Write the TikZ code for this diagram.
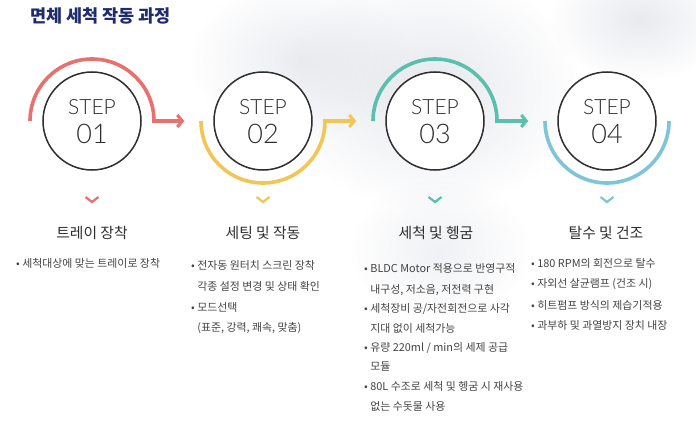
\documentclass[tikz,border=0pt]{standalone}
\usepackage{fontspec}
\setmainfont{Noto Sans CJK KR}
\newfontfamily\stepfont{Lato}[UprightFont={* Light}]
\usetikzlibrary{arrows.meta,calc,fadings}
\tikzfading[name=softout, inner color=transparent!0, outer color=transparent!100]
\definecolor{cA}{HTML}{E8706E}
\definecolor{cB}{HTML}{F2C654}
\definecolor{cC}{HTML}{5BBFAE}
\definecolor{cD}{HTML}{7CC6D8}
\definecolor{navy}{HTML}{1E2C6E}
\definecolor{ink}{HTML}{2E2E2E}
\definecolor{txt}{HTML}{444444}
\definecolor{marble}{HTML}{CDD1DC}
\tikzset{
  stepcircle/.style={circle, draw=ink, line width=1.5pt, minimum size=98pt, inner sep=0pt, fill=white},
  steplabel/.style={font=\stepfont\fontsize{21}{21}\selectfont, text=ink, anchor=base, inner sep=0pt},
  stepnum/.style={font=\stepfont\fontsize{27}{27}\selectfont, text=ink, anchor=base, inner sep=0pt},
  ring/.style={line width=3.6pt, line cap=butt, -{Straight Barb[length=5pt,width=12pt,line width=3pt]}},
  ringend/.style={line width=3.6pt, line cap=butt},
  chev/.style={line width=2.2pt},
  heading/.style={font=\fontsize{14.8}{14.8}\selectfont, text=ink, anchor=base, inner sep=0pt},
  bul/.style={font=\fontsize{10.9}{10.9}\selectfont, text=txt, anchor=base west, inner sep=0pt},
  title/.style={font=\bfseries\fontsize{17.5}{17.5}\selectfont, text=navy, anchor=base west, inner sep=0pt},
  marblepatch/.style={marble, path fading=softout}
}
\begin{document}
\begin{tikzpicture}[x=1pt,y=-1pt]
\useasboundingbox (0,0) rectangle (696,425);
\fill[white] (0,0) rectangle (696,425);
% soft marble background
\fill[marblepatch, opacity=0.5] (430,90) ellipse [x radius=150pt, y radius=120pt];
\fill[marblepatch, opacity=0.4] (300,60) ellipse [x radius=110pt, y radius=80pt];
\fill[marblepatch, opacity=0.45] (640,20) ellipse [x radius=90pt, y radius=60pt];
\fill[marblepatch, opacity=0.3] (440,250) ellipse [x radius=90pt, y radius=70pt];

\node[title] (title) at (30,23) {면체 세척 작동 과정};

% circles
\node[stepcircle] (s1) at (92,121) {};
\node[stepcircle] (s2) at (263,121) {};
\node[stepcircle] (s3) at (435,121) {};
\node[stepcircle] (s4) at (607,121) {};

% arcs and arrows
\draw[ring, cA] ([xshift=-62pt]s1.center) arc[start angle=180, end angle=0, radius=62pt] -- ([xshift=-29pt]s2.west);
\draw[ring, cB] ([xshift=-62pt]s2.center) arc[start angle=180, end angle=360, radius=62pt] -- ([xshift=-29pt]s3.west);
\draw[ring, cC] ([xshift=-62pt]s3.center) arc[start angle=180, end angle=0, radius=62pt] -- ([xshift=-29pt]s4.west);
\draw[ringend, cD] ([xshift=-62pt]s4.center) arc[start angle=180, end angle=360, radius=62pt];

% step labels
\foreach \s/\n in {s1/01, s2/02, s3/03, s4/04}{
  \node[steplabel] (\s lab) at ($(\s)+(0,-6.5)$) {STEP};
  \node[stepnum] (\s num) at ($(\s)+(0,22)$) {\n};
}

% chevrons
\foreach \s/\c in {s1/cA, s2/cB, s3/cC, s4/cD}{
  \draw[chev, \c] ($(\s)+(-6.5,76)$) -- ($(\s)+(0,81)$) -- ($(\s)+(6.5,76)$);
}

% headings
\node[heading] (h1) at (92,238) {트레이 장착};
\node[heading] (h2) at (263,238) {세팅 및 작동};
\node[heading] (h3) at (436,238) {세척 및 헹굼};
\node[heading] (h4) at (606,238) {탈수 및 건조};

% column 1
\node[bul] (a1) at (16,267) {• 세척대상에 맞는 트레이로 장착};
% column 2
\node[bul] (b1) at (191,269) {• 전자동 원터치 스크린 장착};
\node[bul] (b2) at (191,290) {\phantom{• }각종 설정 변경 및 상태 확인};
\node[bul] (b3) at (191,311) {• 모드선택};
\node[bul] (b4) at (191,331) {\phantom{• }(표준, 강력, 쾌속, 맞춤)};
% column 3
\node[bul] (c1) at (364,272) {• BLDC Motor 적용으로 반영구적};
\node[bul] (c2) at (364,293) {\phantom{• }내구성, 저소음, 저전력 구현};
\node[bul] (c3) at (364,312) {• 세척장비 공/자전회전으로 사각};
\node[bul] (c4) at (364,332) {\phantom{• }지대 없이 세척가능};
\node[bul] (c5) at (364,351) {• 유량 220ml / min의 세제 공급};
\node[bul] (c6) at (364,370) {\phantom{• }모듈};
\node[bul] (c7) at (364,390) {• 80L 수조로 세척 및 헹굼 시 재사용};
\node[bul] (c8) at (364,410) {\phantom{• }없는 수돗물 사용};
% column 4
\node[bul] (d1) at (531,267) {• 180 RPM의 회전으로 탈수};
\node[bul] (d2) at (531,287) {• 자외선 살균램프 (건조 시)};
\node[bul] (d3) at (531,309) {• 히트펌프 방식의 제습기적용};
\node[bul] (d4) at (531,329) {• 과부하 및 과열방지 장치 내장};
\end{tikzpicture}
\end{document}
